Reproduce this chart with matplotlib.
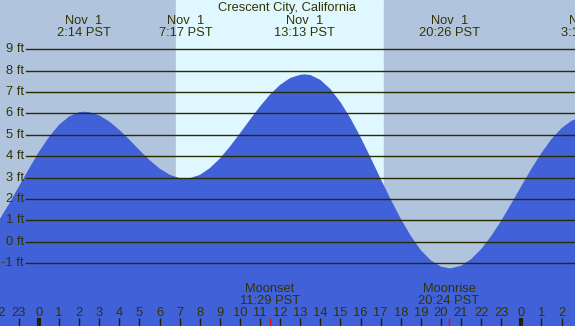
import numpy as np
import matplotlib.pyplot as plt
import matplotlib.transforms as mtransforms

plt.rcParams['font.family'] = ['Liberation Sans', 'DejaVu Sans']

# tide heights (ft), hours since Nov 1 00:00 PST
tide_hours = [-2.0, -1.5, -1.0, -0.5, 0.0, 0.5, 1.0, 1.5, 2.0, 2.233, 2.5, 3.0, 3.5, 4.0,
              4.5, 5.0, 5.5, 6.0, 6.5, 7.0, 7.283, 7.5, 8.0, 8.5, 9.0, 9.5, 10.0, 10.5,
              11.0, 11.5, 12.0, 12.5, 13.0, 13.217, 13.5, 14.0, 14.5, 15.0, 15.5, 16.0,
              16.5, 17.0, 17.5, 18.0, 18.5, 19.0, 19.5, 20.0, 20.433, 20.5, 21.0, 21.5,
              22.0, 22.5, 23.0, 23.5, 24.0, 24.5, 25.0, 25.5, 26.0, 26.5, 27.0]
tide_ft = [0.98, 1.75, 2.58, 3.41, 4.21, 4.90, 5.47, 5.86, 6.06, 6.08, 6.06, 5.91, 5.62, 5.23,
           4.77, 4.28, 3.82, 3.42, 3.13, 2.97, 2.95, 2.97, 3.12, 3.44, 3.89, 4.45, 5.07, 5.71,
           6.33, 6.89, 7.34, 7.66, 7.81, 7.83, 7.80, 7.57, 7.14, 6.53, 5.77, 4.89,
           3.93, 2.94, 1.98, 1.07, 0.27, -0.40, -0.88, -1.17, -1.25, -1.25, -1.13, -0.82,
           -0.35, 0.26, 0.98, 1.78, 2.60, 3.41, 4.15, 4.80, 5.31, 5.66, 5.83]

# high / low labels along the top
extreme_hours = [2.233, 7.283, 13.217, 20.433, 27.3]
extreme_dates = ["Nov  1", "Nov  1", "Nov  1", "Nov  1", "Nov  2"]
extreme_times = ["2:14 PST", "7:17 PST", "13:13 PST", "20:26 PST", "3:18 PST"]

sunrise = 6.82
sunset = 17.16

moon_hours = [11.483, 20.4]
moon_names = ["Moonset", "Moonrise"]
moon_times = ["11:29 PST", "20:24 PST"]

ft_levels = list(range(-1, 10))
hour_ticks = list(range(-2, 27))

W, H = 575, 326
x0, x1 = -1.94, 26.67
y0, y1 = -3.95, 11.31
fs = 9.3

txt = '#333300'
fig = plt.figure(figsize=(W / 100, H / 100), dpi=100)
ax = fig.add_axes([0, 0, 1, 1])
ax.set_xlim(x0, x1)
ax.set_ylim(y0, y1)
ax.axis('off')

ax.axvspan(x0, sunrise, color='#b0c4de', zorder=0)
ax.axvspan(sunrise, sunset, color='#dff8ff', zorder=0)
ax.axvspan(sunset, x1, color='#b0c4de', zorder=0)

ax.fill_between(tide_hours, y0 - 1, tide_ft, color='#4161d8', lw=0, zorder=1)

bt = mtransforms.blended_transform_factory(ax.transData, ax.transAxes)


def py(p):
    # pixel row from the top -> axes fraction
    return 1 - p / H


for lev in ft_levels:
    ax.axhline(lev, xmin=26 / W, xmax=1, color='#2b2b00', lw=1.0, zorder=2)
    ax.text(x0 + 24 / W * (x1 - x0), lev, f"{lev} ft", ha='right', va='center',
            fontsize=fs, color=txt, zorder=3)

ax.text(0.5, py(11), "Crescent City, California", transform=ax.transAxes,
        ha='center', va='baseline', fontsize=fs, color=txt)
for h, d, t in zip(extreme_hours, extreme_dates, extreme_times):
    ax.text(h, py(24), d, transform=bt, ha='center', va='baseline', fontsize=fs, color=txt)
    ax.text(h, py(36), t, transform=bt, ha='center', va='baseline', fontsize=fs, color=txt)

for h in hour_ticks:
    ax.text(h, py(316), str(h % 24), transform=bt, ha='center', va='baseline',
            fontsize=fs, color=txt)
    lw = 3 if h % 24 == 0 else 1
    ax.plot([h, h], [0, 8 / H], transform=bt, color='#222200', lw=lw, solid_capstyle='butt')

for h, n, t in zip(moon_hours, moon_names, moon_times):
    ax.plot([h, h], [0, 8 / H], transform=bt, color='red', lw=1, solid_capstyle='butt')
    ax.text(h, py(291.7), n, transform=bt, ha='center', va='baseline', fontsize=fs, color=txt)
    ax.text(h, py(304), t, transform=bt, ha='center', va='baseline', fontsize=fs, color=txt)

fig.savefig('out.png', dpi=100)
